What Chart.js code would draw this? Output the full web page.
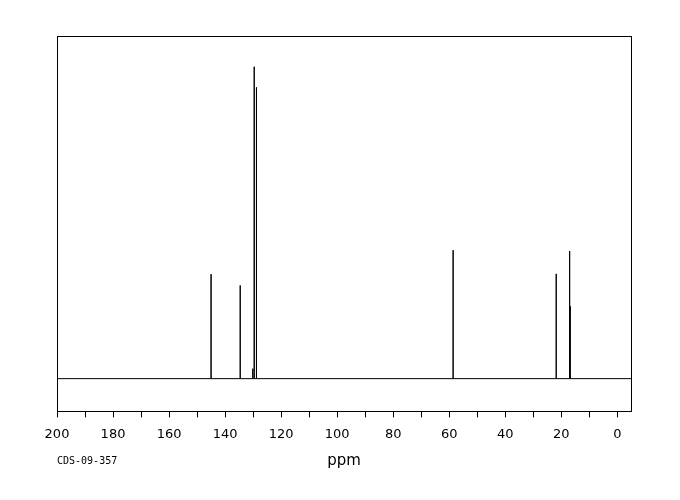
<!DOCTYPE html>
<html>
<head>
<meta charset="utf-8">
<script src="https://cdn.jsdelivr.net/npm/chart.js@4/dist/chart.umd.min.js"></script>
<style>
  html, body { margin: 0; padding: 0; background: #fff; }
  canvas { display: block; }
</style>
</head>
<body>
<canvas id="spectrum" width="680" height="500"></canvas>
<script>
  // peak positions (ppm) and relative heights (tallest = 100)
  const peakPpm = [145.0, 134.6, 130.1, 129.6, 128.8, 58.6, 21.8, 17.0, 16.8];
  const peakHeight = [33.5, 29.9, 3.2, 100, 93.4, 41.2, 33.6, 40.9, 23.2];

  const ppmMax = 200;
  const ppmMin = -4.9;
  const tickStep = 10;
  const labelStep = 20;
  const sampleCode = "CDS-09-357";

  // stick spectrum: baseline, up to each peak, back down
  const points = [{ x: ppmMax, y: 0 }];
  peakPpm.forEach((p, i) => {
    points.push({ x: p, y: 0 });
    points.push({ x: p, y: peakHeight[i] });
    points.push({ x: p, y: 0 });
  });
  points.push({ x: ppmMin, y: 0 });

  const frame = {
    id: "frame",
    afterDraw(chart) {
      const a = chart.chartArea;
      const ctx = chart.ctx;
      ctx.save();
      ctx.strokeStyle = "#000";
      ctx.lineWidth = 1;
      ctx.strokeRect(Math.round(a.left) + 0.5, Math.round(a.top) + 0.5,
        Math.round(a.right - a.left), Math.round(a.bottom - a.top));
      ctx.fillStyle = "#000";
      ctx.font = "10px 'DejaVu Sans Mono'";
      ctx.textBaseline = "middle";
      ctx.fillText(sampleCode, a.left, 461);
      ctx.restore();
    }
  };

  new Chart(document.getElementById("spectrum"), {
    type: "line",
    data: {
      datasets: [{
        data: points,
        borderColor: "#000",
        borderWidth: 1,
        pointRadius: 0,
        tension: 0,
        fill: false
      }]
    },
    options: {
      responsive: false,
      animation: false,
      layout: { padding: { left: 57, right: 49, top: 36, bottom: 26 } },
      plugins: { legend: { display: false }, tooltip: { enabled: false } },
      scales: {
        x: {
          type: "linear",
          reverse: true,
          min: ppmMin,
          max: ppmMax,
          border: { display: true, color: "#000" },
          grid: { drawOnChartArea: false, drawTicks: true, tickLength: 6, color: "#000" },
          ticks: {
            stepSize: tickStep,
            includeBounds: false,
            autoSkip: false,
            maxRotation: 0,
            padding: 9,
            color: "#000",
            font: { family: "DejaVu Sans", size: 13 },
            callback: v => (v % labelStep === 0 ? String(v) : "")
          },
          title: {
            display: true,
            text: "ppm",
            color: "#000",
            font: { family: "DejaVu Sans", size: 15 },
            padding: { top: 1, bottom: 4 }
          }
        },
        y: {
          display: false,
          min: -10.5,
          max: 109.85
        }
      }
    },
    plugins: [frame]
  });
</script>
</body>
</html>
